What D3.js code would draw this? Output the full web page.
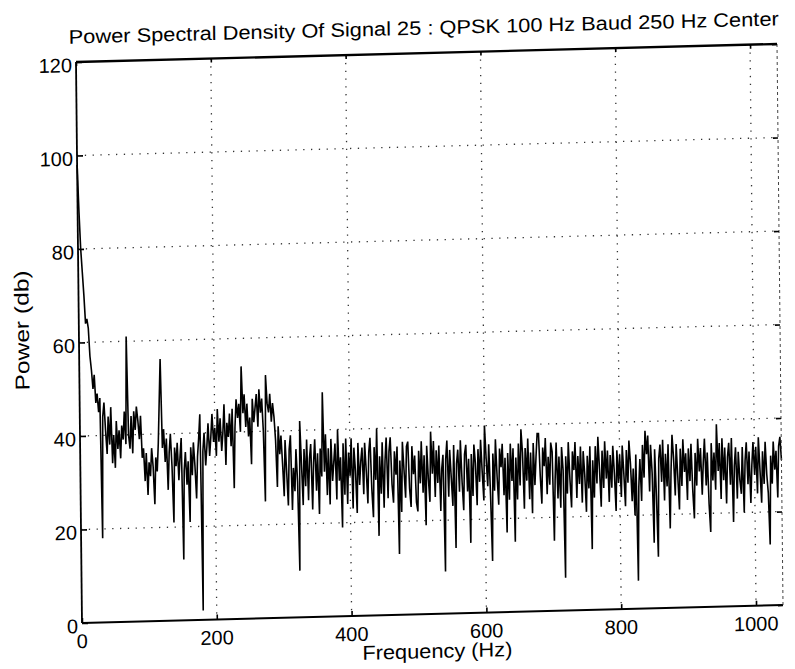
<!DOCTYPE html>
<html><head><meta charset="utf-8">
<script src="https://cdn.jsdelivr.net/npm/d3@7/dist/d3.min.js"></script>
<style>body{margin:0;background:#fff}svg{display:block}</style>
</head><body>
<svg id="chart" width="795" height="669"></svg>
<script>
const titleText = "Power Spectral Density Of Signal 25 : QPSK 100 Hz Baud 250 Hz Center";
const xLabelText = "Frequency (Hz)";
const yLabelText = "Power (db)";
const xTickValues = [0, 200, 400, 600, 800, 1000];
const yTickValues = [0, 20, 40, 60, 80, 100, 120];
const xDomain = [0, 1040];
const yDomain = [0, 120];
const freqStartHz = 0;
const freqStepHz = 2;
// power (db) sampled every 2 Hz from 0 Hz
const power = [
98,88,80,75,70,64,65,63,57,54,
50,53,47,49,45,48,18,44,47,41,
36,44,38,46,34,40,33,43,37,41,
35,42,39,45,38,61,40,37,44,36,
45,41,46,43,39,44,35,37,30,36,
27,34,31,37,33,25,35,32,38,47,
56,37,41,34,39,28,36,40,33,21,
37,33,38,30,35,39,13,32,36,29,
34,21,37,31,38,33,26,35,39,44,
2,36,40,33,37,42,35,39,44,38,
41,35,45,38,43,36,40,46,33,42,
39,44,37,45,28,41,47,43,46,40,
54,44,48,41,46,39,43,33,47,42,
45,48,41,49,44,47,40,25,52,46,
44,48,42,46,43,38,28,41,35,39,
33,26,38,31,24,36,39,23,32,27,
36,29,10,42,33,24,36,28,38,25,
34,37,23,33,38,27,35,22,36,30,
48,31,39,26,36,24,38,29,33,37,
25,40,29,34,19,37,26,38,24,35,
30,38,23,36,31,22,37,28,33,36,
26,37,31,24,35,38,27,21,36,29,
40,17,34,26,37,23,33,38,25,35,
38,28,24,35,30,36,13,33,22,37,
31,25,36,37,27,23,36,30,34,24,
22,35,28,37,26,34,19,36,29,24,
39,30,37,25,35,28,36,22,31,34,
9,33,37,25,35,29,23,36,14,32,
35,26,37,28,22,34,36,26,33,15,
34,25,36,32,23,35,28,37,30,24,
40,33,27,36,25,11,34,26,37,29,
23,35,31,36,25,33,17,34,24,36,
28,35,15,33,24,36,27,39,34,22,
35,28,37,24,34,21,36,27,33,38,
38,29,23,35,31,37,25,33,27,36,
34,15,28,36,24,33,22,35,30,7,
33,25,36,28,22,34,30,36,24,33,
27,35,23,34,29,21,33,26,35,13,
32,24,35,27,37,30,22,34,26,36,
28,34,23,33,26,35,29,21,34,27,
33,24,35,29,22,34,27,36,31,23,
30,20,33,6,26,32,23,35,28,38,
33,37,25,35,29,14,34,24,11,32,
35,27,36,23,33,26,35,17,29,37,
32,24,35,28,21,34,26,36,29,33,
23,34,27,35,25,19,33,26,36,29,
34,24,31,36,26,33,22,16,35,27,
33,25,39,29,35,23,36,27,34,22,
32,35,26,36,18,30,34,23,33,27,
24,34,20,31,35,26,33,22,30,35,
28,34,24,36,29,22,33,26,35,28,
24,13,32,26,35,29,33,23,34,36,
31
];
const frequency = power.map((_, i) => freqStartHz + i * freqStepHz);

const W = 701, H = 561;
const FONT = "'Liberation Sans', Arial, Helvetica, sans-serif";
const svg = d3.select("#chart");
svg.append("rect").attr("width", 795).attr("height", 669).attr("fill", "#fff");
// scanned page is slightly skewed: affine transform for the whole figure
const g = svg.append("g").attr("transform", "matrix(1,-0.0257,0.0107,1,76,62)");

const x = d3.scaleLinear().domain(xDomain).range([0, W]);
const y = d3.scaleLinear().domain(yDomain).range([H, 0]);

// grid
const grid = g.append("g").attr("stroke", "#333").attr("stroke-width", 1.3)
  .attr("stroke-dasharray", "1.3 6.5").attr("fill", "none");
xTickValues.filter(v => v > xDomain[0]).forEach(v => {
  grid.append("line").attr("x1", x(v)).attr("x2", x(v)).attr("y1", 0).attr("y2", H);
});
yTickValues.filter(v => v > yDomain[0] && v < yDomain[1]).forEach(v => {
  grid.append("line").attr("x1", 0).attr("x2", W).attr("y1", y(v)).attr("y2", y(v));
});

// data
const line = d3.line().x((d, i) => x(frequency[i])).y(d => y(d));
g.append("path").datum(power).attr("d", line)
  .attr("fill", "none").attr("stroke", "#000").attr("stroke-width", 1.6)
  .attr("stroke-linejoin", "miter").attr("stroke-miterlimit", 2);

// frame
g.append("line").attr("x1", 0).attr("x2", W).attr("y1", 0).attr("y2", 0)
  .attr("stroke", "#000").attr("stroke-width", 2.4);
g.append("line").attr("x1", 0).attr("x2", W).attr("y1", H).attr("y2", H)
  .attr("stroke", "#000").attr("stroke-width", 2);
g.append("line").attr("x1", 0).attr("x2", 0).attr("y1", 0).attr("y2", H)
  .attr("stroke", "#000").attr("stroke-width", 1.8);
g.append("line").attr("x1", W).attr("x2", W).attr("y1", 0).attr("y2", H)
  .attr("stroke", "#444").attr("stroke-width", 1).attr("stroke-dasharray", "3 3");

// axes with inward ticks (through d3 axis generators)
const axisLeft = d3.axisRight(y).tickValues(yTickValues).tickSize(6).tickFormat("");
const axisBottom = d3.axisTop(x).tickValues(xTickValues).tickSize(5).tickFormat("");
const axisRight = d3.axisLeft(y).tickValues(yTickValues).tickSize(5).tickFormat("");
const axisTop = d3.axisBottom(x).tickValues(xTickValues).tickSize(4).tickFormat("");
[[axisLeft, "translate(0,0)"], [axisBottom, `translate(0,${H})`],
 [axisRight, `translate(${W},0)`], [axisTop, "translate(0,0)"]].forEach(([ax, tr]) => {
  const a = g.append("g").attr("transform", tr).call(ax);
  a.select(".domain").remove();
  a.selectAll(".tick line").attr("stroke", "#000").attr("stroke-width", 1.6);
});

// tick labels
const txt = sel => sel.attr("font-family", FONT).attr("fill", "#000");
g.append("g").selectAll("text").data(yTickValues).join("text")
  .attr("x", -4).attr("y", d => y(d) + 10)
  .attr("text-anchor", "end").attr("font-size", 20).call(txt).text(d => d);
g.append("g").selectAll("text").data(xTickValues).join("text")
  .attr("x", d => x(d)).attr("y", H + 25)
  .attr("text-anchor", "middle").attr("font-size", 20).call(txt).text(d => d);

// title & axis labels
g.append("text").attr("x", 348).attr("y", -18.5).attr("text-anchor", "middle")
  .attr("font-size", 19.5).call(txt)
  .attr("textLength", 710).attr("lengthAdjust", "spacingAndGlyphs").text(titleText);
g.append("text").attr("x", 355).attr("y", H + 44).attr("text-anchor", "middle")
  .attr("font-size", 20).call(txt)
  .attr("textLength", 150).attr("lengthAdjust", "spacingAndGlyphs").text(xLabelText);
g.append("text").attr("transform", "translate(-50,267) rotate(-90)").attr("text-anchor", "middle")
  .attr("font-size", 20).call(txt)
  .attr("textLength", 120).attr("lengthAdjust", "spacingAndGlyphs").text(yLabelText);
</script>
</body></html>
